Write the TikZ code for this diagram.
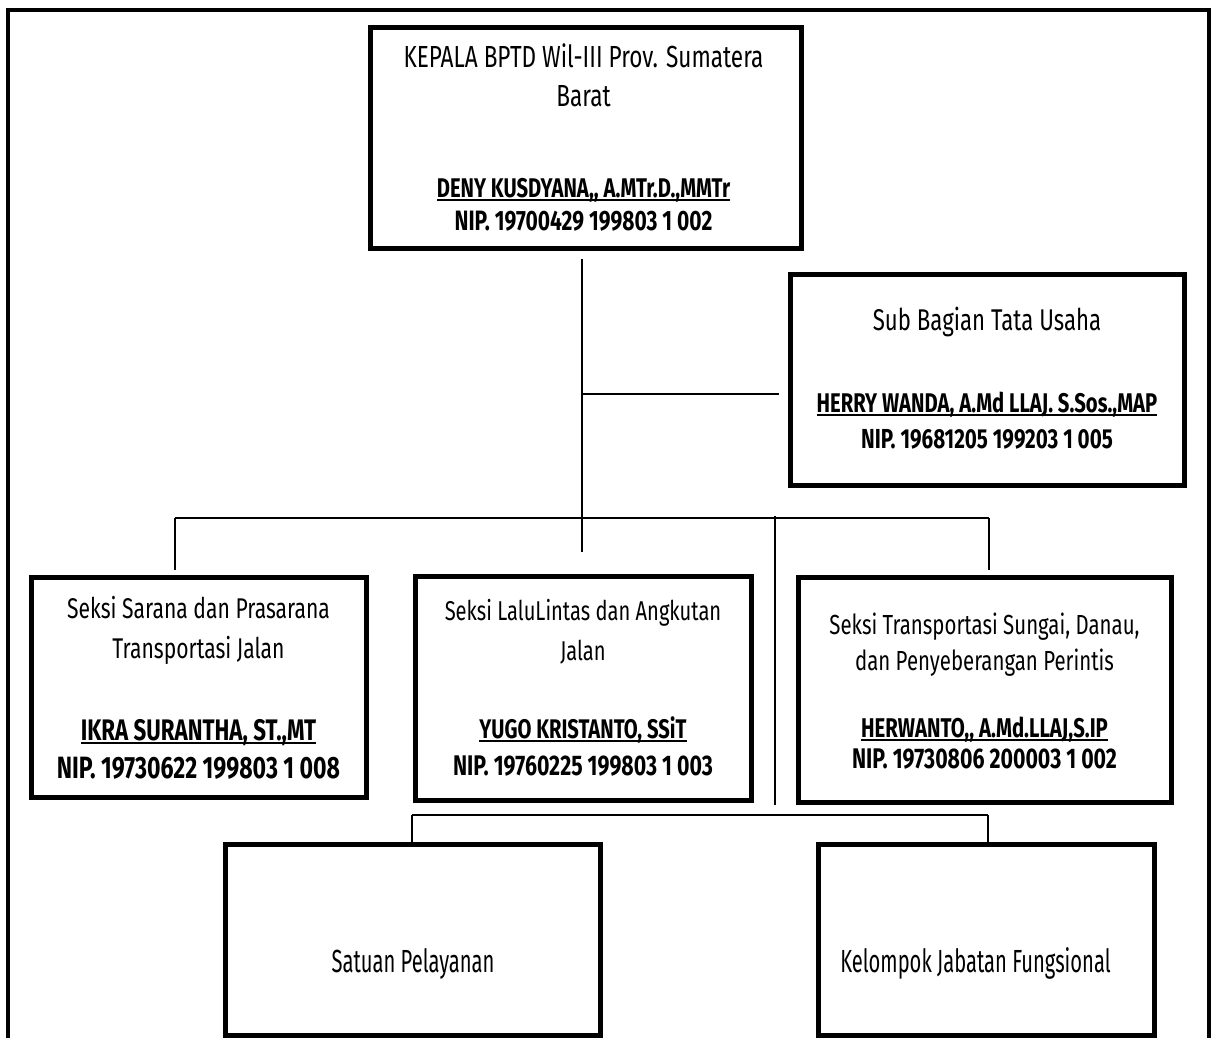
\documentclass[tikz,border=0pt]{standalone}
\usepackage{fontspec}
\setmainfont{Fira Sans}[FakeStretch=0.74]
\newfontfamily\nfam{Fira Sans}[FakeStretch=0.63]
\newfontfamily\bfam{Fira Sans}[FakeStretch=0.75]
\newsavebox{\ulbox}
\newcommand{\myul}[1]{\sbox{\ulbox}{#1}\rlap{\rule[-3.5pt]{\wd\ulbox}{1.8pt}}\usebox{\ulbox}}
\begin{document}
\begin{tikzpicture}[x=1pt,y=-1pt,
  frame/.style={line width=4.5pt, line join=miter},
  box/.style={draw, line width=5pt, rectangle, inner sep=0pt},
  conn/.style={line width=1.6pt},
  reg/.style={inner sep=0pt, anchor=base, font=\fontsize{#1}{#1}\selectfont},
  nar/.style={inner sep=0pt, anchor=base, font=\nfam\fontsize{#1}{#1}\selectfont},
  bld/.style={inner sep=0pt, anchor=base, font=\bfam\bfseries\fontsize{#1}{#1}\selectfont}]
\useasboundingbox (0,0) rectangle (1216,1038);
\fill[white] (0,0) rectangle (1216,1038);

% outer frame
\draw[frame] (8,1038) -- (8,10) -- (1209,10) -- (1209,1038);

% boxes
\node[box, minimum width=431pt, minimum height=220pt] (top) at (585.5,138) {};
\node[box, minimum width=394pt, minimum height=211pt] (sub) at (987.5,379.5) {};
\node[box, minimum width=335pt, minimum height=220pt] (b1) at (198.5,687) {};
\node[box, minimum width=336pt, minimum height=224pt] (b2) at (583,688) {};
\node[box, minimum width=373pt, minimum height=225pt] (b3) at (984.5,689.5) {};
\node[box, minimum width=375pt, minimum height=191pt] (b4) at (412.5,939.5) {};
\node[box, minimum width=336pt, minimum height=191pt] (b5) at (986,939.5) {};

% junction coordinates
\coordinate (trTop) at (582,259);
\coordinate (jSub) at (582,394);
\coordinate (subEnd) at (779,394);
\coordinate (trBot) at (582,552);
\coordinate (busL) at (175,518);
\coordinate (busR) at (989,518);
\coordinate (vTop) at (775,516);
\coordinate (vBot) at (775,805);
\coordinate (busTwoL) at (412,815);
\coordinate (busTwoR) at (988,815);

% connectors
\draw[conn] (trTop) -- (trBot);
\draw[conn] (jSub) -- (subEnd);
\draw[conn] (busL) -- (busR);
\draw[conn, shorten >=5pt] (busL) -- (busL |- b1.north);
\draw[conn, shorten >=5pt] (busR) -- (busR |- b3.north);
\draw[conn] (vTop) -- (vBot);
\draw[conn] (busTwoL) -- (busTwoR);
\draw[conn, shorten >=-3pt] (busTwoL) -- (busTwoL |- b4.north);
\draw[conn] (busTwoR) -- (busTwoR |- b5.north);

% texts: head
\node[reg=30.5] (kT1) at (583.5,68) {KEPALA BPTD Wil-III Prov. Sumatera};
\node[reg=30.5] (kT2) at (583.5,107) {Barat};
\node[bld=27] (kName) at (583.5,197) {\myul{DENY KUSDYANA,, A.MTr.D.,MMTr}};
\node[bld=28] (kNip) at (583.5,230) {NIP. 19700429 199803 1 002};

% sub bagian
\node[reg=30] (sT1) at (987,330) {Sub Bagian Tata Usaha};
\node[bld=27] (sName) at (987,412) {\myul{HERRY WANDA, A.Md LLAJ. S.Sos.,MAP}};
\node[bld=27.5] (sNip) at (987,448) {NIP. 19681205 199203 1 005};

% box 1
\node[reg=28.5] (aT1) at (198.5,618) {Seksi Sarana dan Prasarana};
\node[reg=28.5] (aT2) at (198.5,658) {Transportasi Jalan};
\node[bld=29.7] (aName) at (198.5,740) {\myul{IKRA SURANTHA, ST.,MT}};
\node[bld=30.8] (aNip) at (198.5,778) {NIP. 19730622 199803 1 008};

% box 2
\node[reg=27.2] (cT1) at (583,620) {Seksi LaluLintas dan Angkutan};
\node[reg=27.2] (cT2) at (583,660) {Jalan};
\node[bld=26.9] (cName) at (583,738) {\myul{YUGO KRISTANTO, SSiT}};
\node[bld=28.4] (cNip) at (583,775) {NIP. 19760225 199803 1 003};

% box 3
\node[reg=27.6] (dT1) at (984.5,634) {Seksi Transportasi Sungai, Danau,};
\node[reg=27.6] (dT2) at (984.5,670) {dan Penyeberangan Perintis};
\node[bld=27.1] (dName) at (984.5,737) {\myul{HERWANTO,, A.Md.LLAJ,S.IP}};
\node[bld=28.4] (dNip) at (984.5,768) {NIP. 19730806 200003 1 002};

% bottom boxes
\node[nar=32] (eT) at (413,972) {Satuan Pelayanan};
\node[nar=32] (fT) at (975.5,972) {Kelompok Jabatan Fungsional};
\end{tikzpicture}
\end{document}
